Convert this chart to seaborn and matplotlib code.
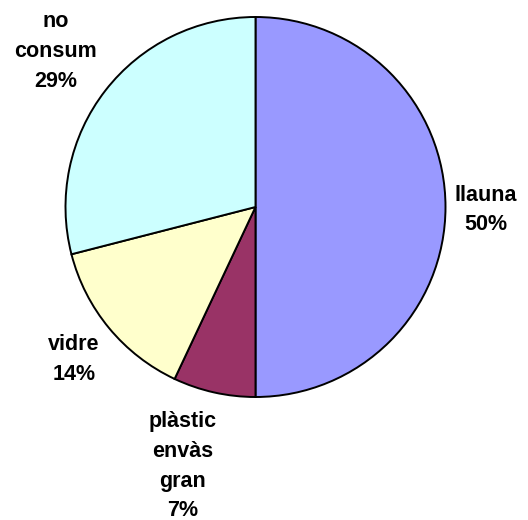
import numpy as np
import matplotlib
matplotlib.use("Agg")
import matplotlib.pyplot as plt
import seaborn as sns

sns.set_theme(style="white")
plt.rcParams["font.family"] = ["Liberation Sans", "DejaVu Sans"]

# Share of each container type (percent)
categories = ["llauna", "plàstic\nenvàs\ngran", "vidre", "no\nconsum"]
shares = [50, 7, 14, 29]
colors = ["#9999FF", "#993366", "#FFFFCC", "#CCFFFF"]

W, H = 528, 520
fig = plt.figure(figsize=(W / 100, H / 100), dpi=100)
ax = fig.add_axes([0, 0, 1, 1])

cx, cy, R = 255.5, H - 207, 190
wedges, _ = ax.pie(
    shares,
    colors=colors,
    startangle=90,
    counterclock=False,
    center=(cx, cy),
    radius=R,
    wedgeprops=dict(edgecolor="black", linewidth=1.4),
)
ax.set_xlim(0, W)
ax.set_ylim(0, H)
ax.set_aspect("auto")
ax.axis("off")

# small per-label nudges (pixels) for the outside labels
nudges = [(0, -3), (7, 0), (-2, 0), (-1, -7)]

# Labels sit just outside the rim, anchored on the side facing the wedge
for w, name, val, (ndx, ndy) in zip(wedges, categories, shares, nudges):
    mid = np.deg2rad((w.theta1 + w.theta2) / 2)
    c, s = np.cos(mid), np.sin(mid)
    dist = 1.05 if abs(s) < 0.9 else 1.1
    x = cx + dist * R * c + ndx
    y = cy + dist * R * s + ndy
    ha = "left" if c > 0.05 else ("right" if c < -0.05 else "center")
    va = "center" if abs(s) < 0.3 else ("bottom" if s > 0 else "top")
    ax.text(x, y, f"{name}\n{val}%", ha=ha, va=va, multialignment="center",
            fontsize=15.5, fontweight="bold", color="black", linespacing=1.55)

fig.savefig("out.png", dpi=100)
